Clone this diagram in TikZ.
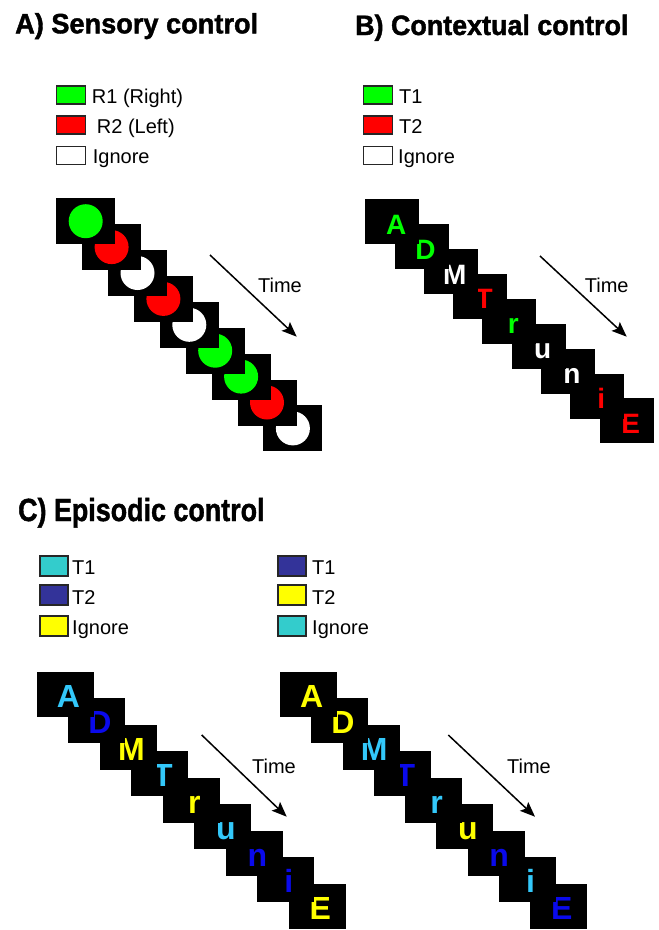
\documentclass[tikz,border=0pt]{standalone}
\usepackage{fontspec}
\setmainfont{Liberation Sans}
\newfontfamily\heavyfont{Liberation Sans Bold}[FakeBold=1.5]
\usetikzlibrary{arrows.meta}
\definecolor{cgreen}{RGB}{0,255,0}
\definecolor{cred}{RGB}{255,0,0}
\definecolor{lcyan}{RGB}{51,200,250}
\definecolor{lblue}{RGB}{10,10,235}
\definecolor{cyel}{RGB}{255,255,0}
\definecolor{bcyan}{RGB}{51,204,204}
\definecolor{bblue}{RGB}{51,51,153}
\tikzset{
  sqA/.style={fill=black, draw=none, minimum width=59pt, minimum height=46pt, inner sep=0pt, anchor=north west},
  sqB/.style={fill=black, draw=none, minimum width=54pt, minimum height=45pt, inner sep=0pt, anchor=north west},
  sqC/.style={fill=black, draw=none, minimum width=57pt, minimum height=45pt, inner sep=0pt, anchor=north west},
  dotA/.style={circle, draw=none, minimum size=34pt, inner sep=0pt},
  letB/.style={font=\fontsize{28}{28}\selectfont\bfseries, inner sep=0pt, anchor=base},
  letC/.style={font=\fontsize{32}{32}\selectfont\bfseries, inner sep=0pt, anchor=base},
  legbox/.style={draw=black!85, line width=1.5pt, minimum width=29pt, minimum height=18pt, inner sep=0pt},
  legboxC/.style={draw=black!85, line width=1.5pt, minimum width=28pt, minimum height=20pt, inner sep=0pt},
  legtxt/.style={font=\fontsize{20}{20}\selectfont, inner sep=0pt, anchor=base west},
  ttl/.style={font=\fontsize{28}{28}\selectfont\heavyfont, inner sep=0pt, anchor=base west},
  timearrow/.style={line width=1.5pt, -{Stealth[length=15pt, width=12pt, inset=3pt]}},
  timelbl/.style={font=\fontsize{20}{20}\selectfont, inner sep=0pt}
}
\begin{document}
\begin{tikzpicture}[x=1pt,y=-1pt]
\useasboundingbox (0,0) rectangle (659,930);
\clip (0,0) rectangle (659,930);
\fill[white] (0,0) rectangle (659,930);

% Titles
\node[ttl, xscale=0.97] (titleA) at (15,33.3) {A) Sensory control};
\node[ttl, xscale=0.96] (titleB) at (355,35) {B) Contextual control};
\node[ttl, font=\fontsize{32}{32}\selectfont\heavyfont, xscale=0.84] (titleC) at (18,521) {C) Episodic control};

% Legend A
\node[legbox, fill=cgreen] (lgA1) at (71,95) {};
\node[legbox, fill=cred] (lgA2) at (71,125) {};
\node[legbox, fill=white] (lgA3) at (71,155.5) {};
\node[legtxt] (ltA1) at (91.7,103) {R1 (Right)};
\node[legtxt] (ltA2) at (96.7,133) {R2 (Left)};
\node[legtxt] (ltA3) at (92.7,163.5) {Ignore};

% Legend B
\node[legbox, fill=cgreen] (lgB1) at (378,95) {};
\node[legbox, fill=cred] (lgB2) at (378,125) {};
\node[legbox, fill=white] (lgB3) at (378,155.5) {};
\node[legtxt] (ltB1) at (399,103) {T1};
\node[legtxt] (ltB2) at (399,133) {T2};
\node[legtxt] (ltB3) at (398,163.5) {Ignore};

% Legend C left
\node[legboxC, fill=bcyan] (lgC1) at (54,566) {};
\node[legboxC, fill=bblue] (lgC2) at (54,595) {};
\node[legboxC, fill=cyel] (lgC3) at (54,626) {};
\node[legtxt] (ltC1) at (72,574) {T1};
\node[legtxt] (ltC2) at (72,604) {T2};
\node[legtxt] (ltC3) at (72,634) {Ignore};

% Legend C right
\node[legboxC, fill=bblue] (lgD1) at (292,566) {};
\node[legboxC, fill=cyel] (lgD2) at (292,595) {};
\node[legboxC, fill=bcyan] (lgD3) at (292,626) {};
\node[legtxt] (ltD1) at (312,574) {T1};
\node[legtxt] (ltD2) at (312,604) {T2};
\node[legtxt] (ltD3) at (312,634) {Ignore};

% Panel A sequence
\foreach \i/\c in {8/white,7/cred,6/cgreen,5/cgreen,4/white,3/cred,2/white,1/cred,0/cgreen}{
  \node[sqA] (sqA\i) at ({56+25.9*\i},{198+25.9*\i}) {};
  \node[dotA, fill=\c] (cA\i) at (sqA\i.center) {};
}

% Panel B sequence
\foreach \i/\l/\c in {8/E/cred,7/i/cred,6/n/white,5/u/white,4/r/cgreen,3/T/cred,2/M/white,1/D/cgreen,0/A/cgreen}{
  \node[sqB] (sqB\i) at ({365+29.3*\i},{199+24.9*\i}) {};
  \node[letB, text=\c] (lB\i) at ([xshift=4pt,yshift=-12.5pt]sqB\i.center) {\l};
}

% Panel C left sequence
\foreach \i/\l/\c in {8/E/cyel,7/i/lblue,6/n/lblue,5/u/lcyan,4/r/cyel,3/T/lcyan,2/M/cyel,1/D/lblue,0/A/lcyan}{
  \node[sqC] (sqC\i) at ({36.7+31.5*\i},{671.7+26.5*\i}) {};
  \node[letC, text=\c] (lC\i) at ([xshift=3pt,yshift=-13pt]sqC\i.center) {\l};
}

% Panel C right sequence
\foreach \i/\l/\c in {8/E/lblue,7/i/lcyan,6/n/lblue,5/u/cyel,4/r/lcyan,3/T/lblue,2/M/lcyan,1/D/cyel,0/A/cyel}{
  \node[sqC] (sqD\i) at ({280+31.25*\i},{671.7+26.5*\i}) {};
  \node[letC, text=\c] (lD\i) at ([xshift=3pt,yshift=-13pt]sqD\i.center) {\l};
}

% Time arrows
\coordinate (tA1) at (210,255); \coordinate (tA2) at (296.7,336.7);
\draw[timearrow] (tA1) -- (tA2);
\node[timelbl] (timeA) at (280,285.5) {Time};

\coordinate (tB1) at (540,256); \coordinate (tB2) at (626.7,336.7);
\draw[timearrow] (tB1) -- (tB2);
\node[timelbl] (timeB) at (606.7,285.5) {Time};

\coordinate (tC1) at (201.7,735); \coordinate (tC2) at (286.7,816.7);
\draw[timearrow] (tC1) -- (tC2);
\node[timelbl] (timeC) at (274,766) {Time};

\coordinate (tD1) at (448.3,735); \coordinate (tD2) at (535,816.7);
\draw[timearrow] (tD1) -- (tD2);
\node[timelbl] (timeD) at (529,766) {Time};
\end{tikzpicture}
\end{document}
